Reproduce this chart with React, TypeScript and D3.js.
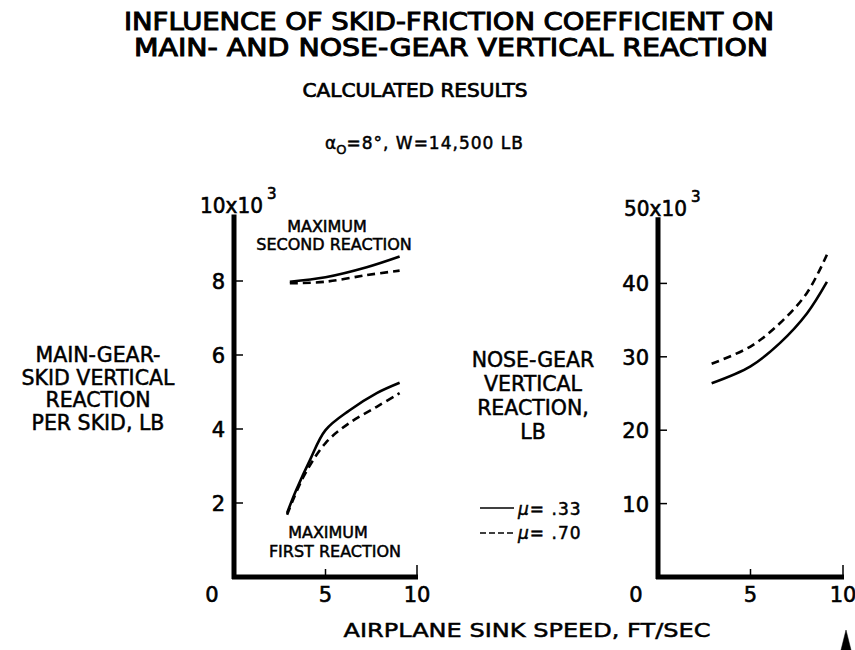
import React from 'react';
import * as d3 from 'd3';

// sink speed, ft/sec and reactions
const firstSolidX = [2.9, 3.4, 4.15, 5, 6.3, 7.8, 9.05];
const firstSolidY = [1.73, 2.35, 3.16, 3.97, 4.5, 4.97, 5.25];
const firstDashX = [2.9, 3.8, 5, 6.3, 7.8, 9.05];
const firstDashY = [1.68, 2.71, 3.62, 4.16, 4.6, 4.97];
const secondSolidX = [3.05, 5, 7.25, 9.05];
const secondSolidY = [7.98, 8.1, 8.37, 8.66];
const secondDashX = [3.05, 5, 7.25, 9.05];
const secondDashY = [7.94, 7.98, 8.16, 8.28];

const noseSolidX = [2.9, 5, 6.6, 8.05, 9.13];
const noseSolidY = [26.4, 28.7, 31.9, 35.9, 40.2];
const noseDashX = [2.9, 5, 6.6, 8.05, 9.13];
const noseDashY = [29.05, 31.4, 34.6, 38.7, 43.9];

const mainTicks = [2, 4, 6, 8];
const noseTicks = [10, 20, 30, 40];
const xTicks = [5, 10];

const FONT = '"DejaVu Sans", sans-serif';
const COND = '"DejaVu Sans Condensed", "DejaVu Sans", sans-serif';
const DASH = '8,5';

const zip = (xs: number[], ys: number[]) => xs.map((x, i) => [x, ys[i]] as [number, number]);

const Panel: React.FC<{
  x0: number; x1: number; y0: number; y1: number; yMax: number;
  ticks: number[]; topLabel: string;
  series: { pts: [number, number][]; dashed: boolean }[];
}> = ({ x0, x1, y0, y1, yMax, ticks, topLabel, series }) => {
  const x = d3.scaleLinear().domain([0, 10]).range([x0, x1]);
  const y = d3.scaleLinear().domain([0, yMax]).range([y0, y1]);
  const line = d3.line<[number, number]>()
    .x(d => x(d[0]))
    .y(d => y(d[1]))
    .curve(d3.curveCatmullRom.alpha(0.5));
  return (
    <g>
      {series.map((s, i) => (
        <path key={i} d={line(s.pts) || ''} fill="none" stroke="#000" strokeWidth={2.6}
          strokeDasharray={s.dashed ? DASH : undefined} />
      ))}
      {/* axes */}
      <line x1={x(0)} x2={x(0)} y1={y(0) + 2} y2={y(yMax * 0.98)} stroke="#000" strokeWidth={5} />
      <line x1={x(0) - 2} x2={x(10) + 1} y1={y(0)} y2={y(0)} stroke="#000" strokeWidth={5} />
      <g fontFamily={FONT} fontSize={21} stroke="#000" strokeWidth={0.6}>
        {ticks.map(t => (
          <g key={t}>
            <line x1={x(0)} x2={x(0) + 9} y1={y(t)} y2={y(t)} stroke="#000" strokeWidth={1.5} />
            <text x={x(0) - 9} y={y(t) + 8} textAnchor="end">{t}</text>
          </g>
        ))}
        {xTicks.map(t => (
          <g key={t}>
            <line x1={x(t)} x2={x(t)} y1={y(0)} y2={y(0) - (t === 10 ? 12 : 8)} stroke="#000" strokeWidth={1.5} />
            <text x={x(t)} y={y(0) + 25} textAnchor="middle">{t}</text>
          </g>
        ))}
        <text x={x(0) - 22} y={y(0) + 25} textAnchor="middle">0</text>
        <text x={x(0) - 34} y={y1 + 6} textLength={63} lengthAdjust="spacingAndGlyphs">{topLabel}</text>
        <text x={x(0) + 33} y={y1 - 8} fontSize={15}>3</text>
      </g>
    </g>
  );
};

export default function App() {
  return (
    <svg width={855} height={650} style={{ position: 'absolute', left: 0, top: 0, background: '#fff' }}>
      <rect width={855} height={650} fill="#fff" />
      <g fontFamily={FONT} fill="#000" stroke="#000" strokeWidth={0.5}>
        <g fontFamily={COND} fontSize={24} strokeWidth={0.9}>
          <text x={449} y={30} textAnchor="middle" textLength={650} lengthAdjust="spacingAndGlyphs">INFLUENCE OF SKID-FRICTION COEFFICIENT ON</text>
          <text x={451} y={56} textAnchor="middle" textLength={634} lengthAdjust="spacingAndGlyphs">MAIN- AND NOSE-GEAR VERTICAL REACTION</text>
        </g>
        <text x={415} y={97} textAnchor="middle" fontFamily={COND} fontSize={20} strokeWidth={0.7} textLength={225} lengthAdjust="spacingAndGlyphs">CALCULATED RESULTS</text>
        <text x={325} y={149} fontSize={17}>
          α<tspan fontSize={13} dy={5}>O</tspan><tspan dy={-5} letterSpacing={1}>=8°,   W=14,500 LB</tspan>
        </text>

        {/* left y label */}
        {['MAIN-GEAR-', 'SKID VERTICAL', 'REACTION', 'PER SKID, LB'].map((s, i) => (
          <text key={s} x={98} y={362 + i * 22.7} textAnchor="middle" fontSize={20.5}>{s}</text>
        ))}
        {/* right y label */}
        {['NOSE-GEAR', 'VERTICAL', 'REACTION,', 'LB'].map((s, i) => (
          <text key={s} x={533} y={367 + i * 24} textAnchor="middle" fontSize={20.5}>{s}</text>
        ))}

        {/* annotations */}
        <text x={327} y={232} textAnchor="middle" fontSize={16}>MAXIMUM</text>
        <text x={334} y={250} textAnchor="middle" fontSize={16}>SECOND REACTION</text>
        <text x={328} y={538} textAnchor="middle" fontSize={16}>MAXIMUM</text>
        <text x={335} y={557} textAnchor="middle" fontSize={16}>FIRST REACTION</text>

        {/* legend */}
        <line x1={480} x2={514} y1={508} y2={508} stroke="#000" strokeWidth={1.5} />
        <text x={518} y={515} fontSize={17} letterSpacing={1}><tspan fontStyle="italic">μ</tspan>= .33</text>
        <line x1={480} x2={514} y1={533} y2={533} stroke="#000" strokeWidth={1.5} strokeDasharray="6,3" />
        <text x={518} y={539} fontSize={17} letterSpacing={1}><tspan fontStyle="italic">μ</tspan>= .70</text>

        <Panel x0={234} x1={417} y0={577} y1={207} yMax={10} ticks={mainTicks} topLabel="10x10"
          series={[
            { pts: zip(firstSolidX, firstSolidY), dashed: false },
            { pts: zip(firstDashX, firstDashY), dashed: true },
            { pts: zip(secondSolidX, secondSolidY), dashed: false },
            { pts: zip(secondDashX, secondDashY), dashed: true },
          ]} />
        <Panel x0={658} x1={843} y0={577} y1={210} yMax={50} ticks={noseTicks} topLabel="50x10"
          series={[
            { pts: zip(noseSolidX, noseSolidY), dashed: false },
            { pts: zip(noseDashX, noseDashY), dashed: true },
          ]} />

        <text x={527} y={637} textAnchor="middle" fontSize={20} textLength={367} lengthAdjust="spacingAndGlyphs">AIRPLANE SINK SPEED, FT/SEC</text>
        <path d="M846,630 L851,650 L841,650 Z" fill="#000" />
      </g>
    </svg>
  );
}
